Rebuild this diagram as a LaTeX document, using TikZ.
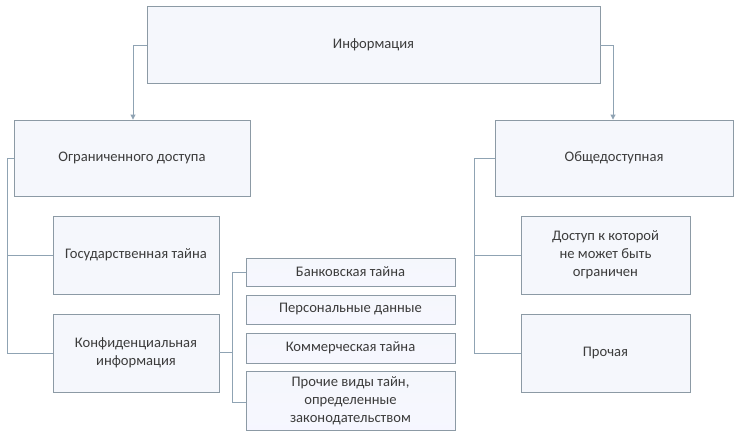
\documentclass[tikz,border=0pt]{standalone}
\usepackage{fontspec}
\setmainfont{Carlito}
\usetikzlibrary{arrows.meta}
\definecolor{bord}{HTML}{8C9AA5}
\definecolor{fillc}{HTML}{F5F7FC}
\definecolor{lnc}{HTML}{8FA3B3}
\definecolor{txt}{HTML}{3C3C3C}
\tikzset{box/.style={draw=bord,line width=0.9pt,fill=fillc,text=txt,font=\fontsize{14.6}{18}\selectfont,align=center},
sbox/.style={draw=bord,line width=0.9pt,top color=fillc,bottom color=fillc!60!blue!8,text=txt,font=\fontsize{14.6}{18}\selectfont,align=center},
con/.style={draw=lnc,line width=0.9pt},
arr/.style={con,-{Triangle[length=5pt,width=5pt]}}}
\begin{document}
\begin{tikzpicture}[x=1pt,y=-1pt]
\useasboundingbox (0,0) rectangle (738,440);
\fill[white] (0,0) rectangle (738,440);
\def\bx#1#2#3#4#5#6#7{\node[#7,minimum width=#4-#2,minimum height=#5-#3,inner sep=0] (#1) at ({(#2+#4)/2},{(#3+#5)/2}) {#6};}
\bx{top}{147}{6}{600}{83}{Информация}{box}
\bx{lim}{14}{120}{250}{196}{Ограниченного доступа}{box}
\bx{pub}{495}{120}{733}{196}{Общедоступная}{box}
\bx{gov}{53}{216}{219}{294}{Государственная тайна}{box}
\bx{conf}{53}{314}{219}{392}{Конфиденциальная\\информация}{box}
\bx{acc}{521}{216}{690}{294}{Доступ к которой\\не может быть\\ограничен}{box}
\bx{oth}{521}{314}{690}{392}{Прочая}{box}
\bx{b1}{246}{258}{455}{286}{Банковская тайна}{sbox}
\bx{b2}{246}{295}{455}{324}{Персональные данные}{sbox}
\bx{b3}{246}{333}{455}{363}{Коммерческая тайна}{sbox}
\bx{b4}{246}{371}{455}{430}{Прочие виды тайн,\\определенные\\законодательством}{sbox}
\draw[arr] (top.west|-0,45) -| (lim.north-|133,0);
\draw[arr] (top.east|-0,45) -| (pub.north-|613,0);
\draw[con] (lim.west|-0,158) -| (7,353) -- (conf.west|-0,353);
\draw[con] (7,255) -- (gov.west|-0,255);
\draw[con] (pub.west|-0,158) -| (474,353) -- (oth.west|-0,353);
\draw[con] (474,255) -- (acc.west|-0,255);
\draw[con] (conf.east|-0,352) -- (232,352);
\draw[con] (b1.west|-0,272) -| (232,402) -- (b4.west|-0,402);
\end{tikzpicture}
\end{document}
